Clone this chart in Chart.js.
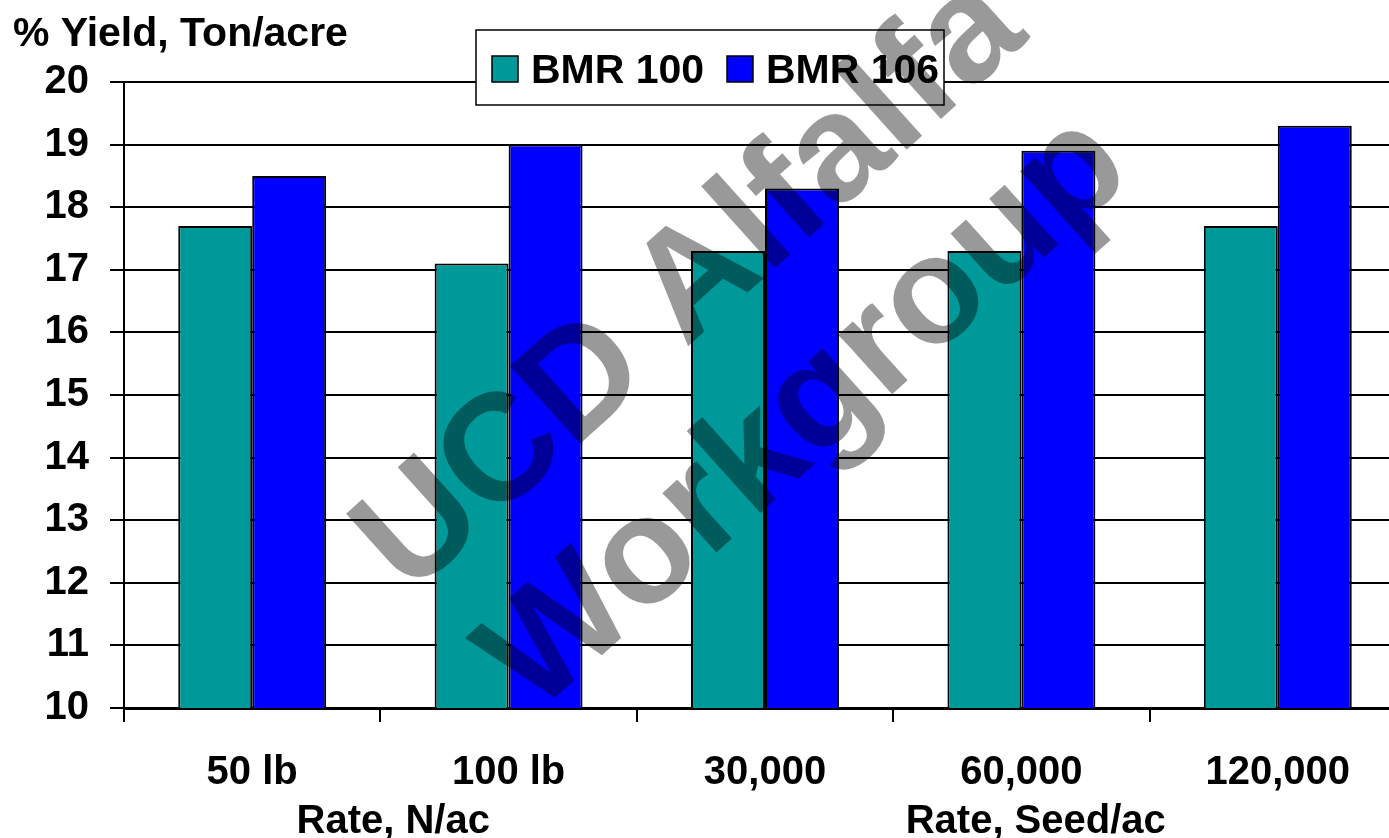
<!DOCTYPE html>
<html>
<head>
<meta charset="utf-8">
<script src="https://cdn.jsdelivr.net/npm/chart.js@4.4.1/dist/chart.umd.min.js"></script>
<style>
  html, body { margin: 0; padding: 0; background: #fff; overflow: hidden; }
  #wrap { width: 1420px; height: 838px; }
</style>
</head>
<body>
<div id="wrap"><canvas id="yieldChart" width="1420" height="838"></canvas></div>
<script>
// data
const categories  = ['50 lb', '100 lb', '30,000', '60,000', '120,000'];
const bmr100      = [17.7, 17.1, 17.3, 17.3, 17.7];
const bmr106      = [18.5, 19.0, 18.3, 18.9, 19.3];
const seriesNames = ['BMR 100', 'BMR 106'];
const yMin = 10, yMax = 20, yStep = 1;
const yTitle = '% Yield, Ton/acre';
const groupLabels = ['Rate, N/ac', 'Rate, Seed/ac'];
const watermarkLines = ['UCD Alfalfa', 'Workgroup'];

const FONT = "'Liberation Sans', Arial, sans-serif";
const COLORS = ['#009999', '#0000ff'];

// group label centres, in category units
const groupAt = [0.55, 3.056];

const extras = {
  id: 'extras',
  afterDraw(chart) {
    const { ctx, scales: { x } } = chart;
    ctx.save();
    ctx.fillStyle = '#000';
    ctx.font = `bold 41px ${FONT}`;
    ctx.textBaseline = 'alphabetic';

    // axis title top-left
    ctx.textAlign = 'left';
    ctx.fillText(yTitle, 13, 46);

    // group labels under the categories
    ctx.font = `bold 40px ${FONT}`;
    ctx.textAlign = 'center';
    groupLabels.forEach((txt, i) => {
      ctx.fillText(txt, x.getPixelForValue(groupAt[i]), 833);
    });

    // legend box over the top of the plot
    ctx.fillStyle = '#fff';
    ctx.fillRect(476, 30, 468, 75);
    ctx.strokeStyle = '#000';
    ctx.lineWidth = 1.5;
    ctx.strokeRect(476, 30, 468, 75);
    const boxX = [492, 727];
    ctx.font = `bold 41px ${FONT}`;
    chart.data.datasets.forEach((ds, i) => {
      ctx.fillStyle = ds.backgroundColor;
      ctx.fillRect(boxX[i], 56, 26, 26);
      ctx.strokeRect(boxX[i], 56, 26, 26);
      ctx.fillStyle = '#000';
      ctx.textAlign = 'left';
      ctx.fillText(ds.label, boxX[i] + 39, 83);
    });

    // watermark
    ctx.translate(740, 340);
    ctx.rotate(-42 * Math.PI / 180);
    ctx.fillStyle = 'rgba(0,0,0,0.4)';
    ctx.font = `bold 152px ${FONT}`;
    ctx.textAlign = 'center';
    ctx.fillText(watermarkLines[0], 0, -30);
    ctx.fillText(watermarkLines[1], 0, 142);
    ctx.restore();
  }
};

Chart.defaults.font.family = FONT;
Chart.defaults.color = '#000';

new Chart(document.getElementById('yieldChart').getContext('2d'), {
  type: 'bar',
  data: {
    labels: categories,
    datasets: [
      { label: seriesNames[0], data: bmr100, backgroundColor: COLORS[0], borderColor: '#000', borderWidth: 2 },
      { label: seriesNames[1], data: bmr106, backgroundColor: COLORS[1], borderColor: '#000', borderWidth: 2 }
    ]
  },
  options: {
    responsive: false,
    animation: false,
    devicePixelRatio: 1,
    layout: { padding: { top: 82, right: 14, left: 0, bottom: 0 } },
    datasets: {
      bar: { categoryPercentage: 0.577, barPercentage: 1.0 }
    },
    plugins: {
      legend: { display: false },
      tooltip: { enabled: false }
    },
    scales: {
      x: {
        offset: true,
        afterFit: s => { s.height = 130; },
        grid: {
          offset: true,
          drawOnChartArea: false,
          drawTicks: true,
          tickLength: 14,
          color: '#000',
          lineWidth: 2
        },
        border: { display: true, color: '#000', width: 3 },
        ticks: {
          font: { size: 40, weight: 'bold' },
          color: '#000',
          padding: 27,
          maxRotation: 0
        }
      },
      y: {
        min: yMin,
        max: yMax,
        afterFit: s => { s.width = 124; },
        grid: {
          color: '#000',
          lineWidth: 2,
          tickLength: 14
        },
        border: { display: true, color: '#000', width: 2 },
        ticks: {
          stepSize: yStep,
          font: { size: 40, weight: 'bold' },
          color: '#000',
          padding: 21
        }
      }
    }
  },
  plugins: [extras]
});
</script>
</body>
</html>
